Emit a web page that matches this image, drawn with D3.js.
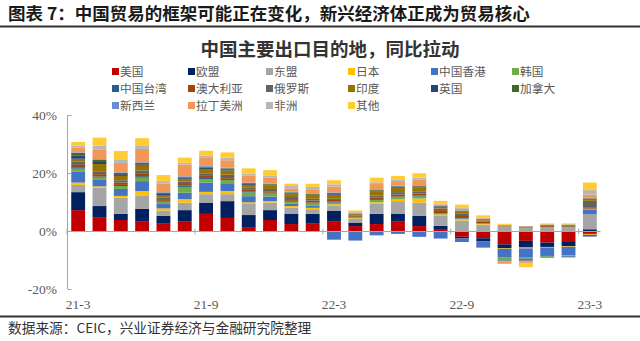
<!DOCTYPE html>
<html>
<head>
<meta charset="utf-8">
<script src="https://cdn.jsdelivr.net/npm/d3@7/dist/d3.min.js"></script>
<style>
  body { margin: 0; background: #fff; }
  svg { display: block; font-family: "Liberation Serif", "Noto Sans CJK SC", serif; }
</style>
</head>
<body>
<svg id="chart" width="640" height="341"></svg>
<script>
// months on the category axis
const months = ["21-3","21-4","21-5","21-6","21-7","21-8","21-9","21-10","21-11","21-12",
  "22-1","22-2","22-3","22-4","22-5","22-6","22-7","22-8","22-9","22-10","22-11","22-12",
  "23-1","23-2","23-3"];
const labelMonths = ["21-3","21-9","22-3","22-9","23-3"];
const yTicks = [-20, 0, 20, 40];

// export growth contribution by destination, percentage points
const us      = [7.2,4.8,3.8,3.4,2.5,3.2,5.9,4.5,1.1,3.8,2.4,2.5,3.4,1.7,2.4,3.4,1.7,0.4,-2.0,-2.5,-4.6,-3.4,-4.0,-3.5,-1.0];
const eu      = [6.2,3.8,2.1,4.2,2.7,4.0,3.9,5.8,4.4,3.4,3.6,3.4,3.5,1.2,3.5,2.6,3.5,1.4,-0.6,-1.1,-1.4,-2.3,-1.5,-1.8,0.6];
const asean   = [2.5,6.3,5.6,4.5,1.8,2.6,2.9,2.4,3.8,2.6,2.0,1.6,1.7,1.3,3.6,4.3,4.6,3.4,3.6,2.2,1.6,1.2,1.4,1.3,5.2];
const japan   = [0.8,0.5,0.6,1.7,0.8,1.2,0.8,1.1,0.6,0.5,0.6,0.5,0.6,0.2,0.4,0.6,1.4,0.5,0.4,0.2,-0.2,-0.3,-0.2,-0.2,-0.3];
const hk      = [3.7,2.2,2.4,3.4,1.5,2.2,3.2,2.4,2.1,1.6,0.8,0.8,-3.0,-3.3,-1.5,-1.0,-2.0,-2.6,-1.2,-1.9,-3.0,-3.2,-2.9,-2.9,1.6];
const korea   = [1.1,0.8,1.0,1.2,0.8,2.0,1.2,1.4,1.3,1.0,0.7,0.7,0.6,0.2,0.8,0.7,0.7,0.3,0.3,0.2,-1.0,-0.3,-0.3,-0.3,0.3];
const taiwan  = [0.5,0.4,0.4,0.5,0.3,0.4,0.4,0.4,0.4,0.3,0.3,0.3,0.3,0.1,0.3,0.3,0.3,0.2,0.2,-0.2,-0.2,-0.2,-0.2,-0.2,-0.4];
const aus     = [0.8,0.8,0.8,0.8,0.6,0.6,0.7,0.6,0.5,0.5,0.6,0.7,0.6,0.4,0.6,0.7,0.7,1.0,1.0,0.6,0.2,0.2,0.3,0.3,0.5];
const russia  = [1.2,1.0,0.8,1.2,0.6,0.8,0.9,0.8,0.7,0.8,0.7,0.6,0.4,0.3,0.6,0.8,0.8,0.6,0.6,0.4,0.1,-0.5,0.3,0.4,2.2];
const india   = [0.9,2.5,1.5,1.6,0.8,1.0,1.5,1.5,1.0,1.2,1.0,1.1,1.4,0.4,1.4,1.4,1.3,0.6,0.6,0.4,0.1,0.2,0.2,0.2,0.8];
const uk      = [1.2,1.0,0.6,0.5,0.4,0.4,0.5,0.4,0.3,0.3,0.3,0.3,0.3,0.1,0.3,0.3,0.3,0.2,0.2,0.1,0.0,-0.1,-0.1,-0.1,-0.2];
const canada  = [0.8,0.5,0.4,0.5,0.4,0.3,0.3,0.3,0.3,0.2,0.3,0.3,0.3,0.1,0.3,0.3,0.3,0.1,0.1,0.1,0.0,0.0,0.0,0.0,0.1];
const nz      = [0.2,0.2,0.2,0.2,0.2,0.2,0.2,0.2,0.2,0.2,0.2,0.2,0.2,0.1,0.2,0.2,0.2,0.1,0.1,0.0,-0.1,-0.1,0.0,0.0,0.1];
const latam   = [1.6,3.2,3.3,4.6,3.0,4.0,2.8,2.6,2.4,2.0,1.2,1.4,2.0,0.1,1.8,1.6,1.9,0.4,0.5,0.2,-0.8,-0.6,-0.1,-0.2,1.2];
const africa  = [0.8,1.4,1.0,1.0,0.8,0.6,0.7,0.9,0.7,0.6,0.8,0.8,0.8,0.3,0.6,0.6,0.7,0.3,0.3,0.2,0.1,0.1,0.1,0.1,1.5];
const other   = [1.2,2.8,3.1,2.7,2.1,1.8,1.8,1.8,1.8,2.0,0.8,1.1,1.4,0.6,1.6,1.2,1.5,0.9,1.2,0.8,0.4,-1.5,0.3,0.3,2.6];

const seriesNames = ["美国","欧盟","东盟","日本","中国香港","韩国","中国台湾","澳大利亚",
  "俄罗斯","印度","英国","加拿大","新西兰","拉丁美洲","非洲","其他"];
const seriesValues = [us, eu, asean, japan, hk, korea, taiwan, aus, russia, india, uk, canada, nz, latam, africa, other];
const colors = ["#C00000","#002060","#A5A5A5","#FFC000","#4472C4","#70AD47","#255E91","#9E480E",
  "#636363","#997300","#264478","#43682B","#698ED0","#F1975A","#B7B7B7","#FFCD33"];

const svg = d3.select("#chart");

// report header and rules
svg.append("text")
  .attr("x", 8).attr("y", 20)
  .attr("font-size", 17.5).attr("font-weight", "bold").attr("fill", "#1a1a1a")
  .attr("font-family", "Noto Sans CJK SC")
  .text("图表 7：中国贸易的框架可能正在变化，新兴经济体正成为贸易核心");
svg.append("line").attr("x1", 0).attr("x2", 640).attr("y1", 26.5).attr("y2", 26.5)
  .attr("stroke", "#333").attr("stroke-width", 2);
svg.append("line").attr("x1", 0).attr("x2", 640).attr("y1", 316.5).attr("y2", 316.5)
  .attr("stroke", "#333").attr("stroke-width", 2);
svg.append("text")
  .attr("x", 8).attr("y", 333)
  .attr("font-size", 13.7).attr("fill", "#333")
  .attr("font-family", "Noto Sans CJK SC")
  .text("数据来源：CEIC，兴业证券经济与金融研究院整理");

// chart title
svg.append("text")
  .attr("x", 330).attr("y", 56)
  .attr("text-anchor", "middle")
  .attr("font-size", 18.5).attr("font-weight", "bold").attr("fill", "#333")
  .attr("font-family", "Noto Sans CJK SC")
  .text("中国主要出口目的地，同比拉动");

// legend, 6 columns
const legendX = [112, 188, 266, 348, 431, 512];
const legendY = [71.5, 88.5, 105.5];
const legend = svg.append("g").attr("font-size", 11.7).attr("fill", "#595959")
  .attr("font-family", "Noto Sans CJK SC");
seriesNames.forEach((name, i) => {
  const lx = legendX[i % 6], ly = legendY[Math.floor(i / 6)];
  legend.append("rect").attr("x", lx).attr("y", ly - 3.5).attr("width", 7).attr("height", 7)
    .attr("fill", colors[i]);
  legend.append("text").attr("x", lx + 8).attr("y", ly).attr("dy", "0.36em").text(name);
});

// scales
const x = d3.scaleBand().domain(months).range([67.5, 600.5])
  .paddingInner(0.35).paddingOuter(0.175);
const y = d3.scaleLinear().domain([-20, 40]).range([289, 115]);

const rows = months.map((m, i) => {
  const r = { month: m };
  seriesNames.forEach((n, k) => { r[n] = seriesValues[k][i]; });
  return r;
});
const stacked = d3.stack().keys(seriesNames).offset(d3.stackOffsetDiverging)(rows);

// bars
svg.append("g").selectAll("g")
  .data(stacked)
  .join("g")
  .attr("fill", (d, i) => colors[i])
  .selectAll("rect")
  .data(d => d)
  .join("rect")
  .attr("x", d => x(d.data.month))
  .attr("width", x.bandwidth())
  .attr("y", d => y(Math.max(d[0], d[1])))
  .attr("height", d => Math.abs(y(d[0]) - y(d[1])));

// y axis
svg.append("line").attr("x1", 67.5).attr("x2", 67.5).attr("y1", y(40)).attr("y2", y(-20))
  .attr("stroke", "#A6A6A6");
svg.append("g").selectAll("line").data(yTicks).join("line")
  .attr("x1", 67.5).attr("x2", 71.5)
  .attr("y1", d => Math.round(y(d)) + 0.5).attr("y2", d => Math.round(y(d)) + 0.5)
  .attr("stroke", "#A6A6A6");
svg.append("g").selectAll("text").data(yTicks).join("text")
  .attr("x", 57).attr("y", d => y(d)).attr("dy", "0.35em")
  .attr("text-anchor", "end").attr("font-size", 13.5).attr("fill", "#595959")
  .text(d => d + "%");

// category axis along zero
const y0 = Math.round(y(0)) + 0.5;
svg.append("line").attr("x1", 67.5).attr("x2", 600.5).attr("y1", y0).attr("y2", y0)
  .attr("stroke", "#A6A6A6");
svg.append("g").selectAll("line").data(labelMonths).join("line")
  .attr("x1", d => x(d) - x.step() * 0.175 - 0.5).attr("x2", d => x(d) - x.step() * 0.175 - 0.5)
  .attr("y1", y0 - 3).attr("y2", y0 + 3)
  .attr("stroke", "#A6A6A6");
svg.append("g").selectAll("text").data(labelMonths).join("text")
  .attr("x", d => x(d) + x.bandwidth() / 2).attr("y", 304).attr("dy", "0.35em")
  .attr("text-anchor", "middle").attr("font-size", 13.5).attr("fill", "#595959")
  .text(d => d);
</script>
</body>
</html>
